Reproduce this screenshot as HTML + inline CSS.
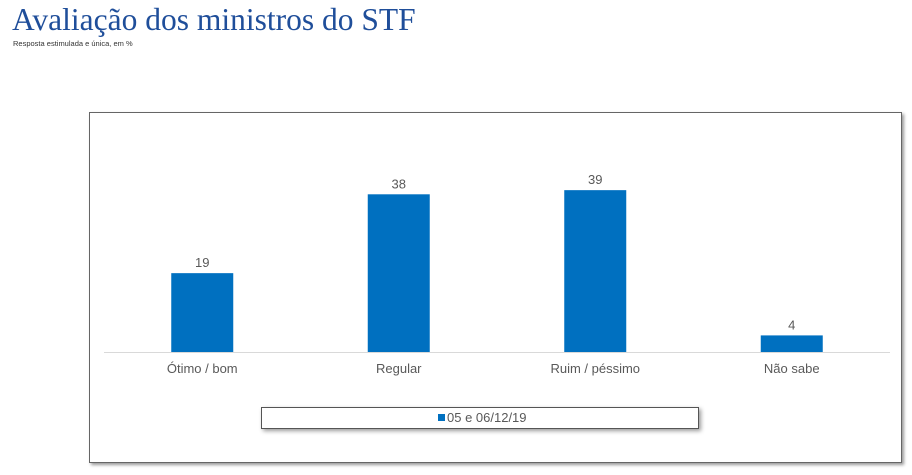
<!DOCTYPE html>
<html><head><meta charset="utf-8"><style>
body{margin:0;width:912px;height:475px;background:#fff;overflow:hidden;font-family:"Liberation Sans",sans-serif}
#title{position:absolute;left:12px;top:2px;font-family:"Liberation Serif",serif;font-size:31.5px;color:#1f4e9a;white-space:nowrap}
#sub{position:absolute;left:13px;top:39px;font-size:7.5px;color:#333}
#box{position:absolute;left:89px;top:112px;width:811px;height:349px;border:1px solid #666;box-shadow:2px 2px 3px #999}
</style></head><body>
<div id="title">Avaliação dos ministros do STF</div>
<div id="sub">Resposta estimulada e única, em %</div>
<div id="box"></div>
<svg id="chart" width="912" height="475" style="position:absolute;left:0;top:0"></svg>
<script>
const categories=["Ótimo / bom","Regular","Ruim / péssimo","Não sabe"];
const values=[19,38,39,4];
const seriesName="05 e 06/12/19";
const svg=document.getElementById('chart');
const NS='http://www.w3.org/2000/svg';
const x0=104,x1=890,base=352,pxPer=4.15,bw=62;
const cw=(x1-x0)/categories.length;
const xc=i=>x0+cw*(i+0.5);
const y=v=>base-v*pxPer;
function mk(t,a){const e=document.createElementNS(NS,t);for(const k in a)e.setAttribute(k,a[k]);svg.appendChild(e);return e;}
const ax=mk('line',{x1:x0,x2:x1,y1:base+0.5,y2:base+0.5,stroke:'#d9d9d9'});


categories.forEach((c,i)=>{
 const r=mk('rect',{x:xc(i)-bw/2,y:y(values[i]),width:bw,height:values[i]*pxPer,fill:'#0070c0'});
 
 
 const t=mk('text',{x:xc(i),y:y(values[i])-6,'text-anchor':'middle','font-size':13,fill:'#595959','font-family':'Liberation Sans, sans-serif'});
 t.textContent=values[i];
 
 
 const l=mk('text',{x:xc(i),y:373,'text-anchor':'middle','font-size':13,fill:'#595959','font-family':'Liberation Sans, sans-serif'});
 l.textContent=c;
 
 
});
const lg=mk('rect',{x:261.5,y:407.5,width:437,height:21,fill:'#fff',stroke:'#555',style:'filter:drop-shadow(2px 2px 2px #999)'});


const sw=mk('rect',{x:438,y:414,width:7,height:7,fill:'#0070c0'});


const lt=mk('text',{x:447,y:422,'font-size':13,fill:'#595959','font-family':'Liberation Sans, sans-serif'});
lt.textContent=seriesName;


</script>
</body></html>
